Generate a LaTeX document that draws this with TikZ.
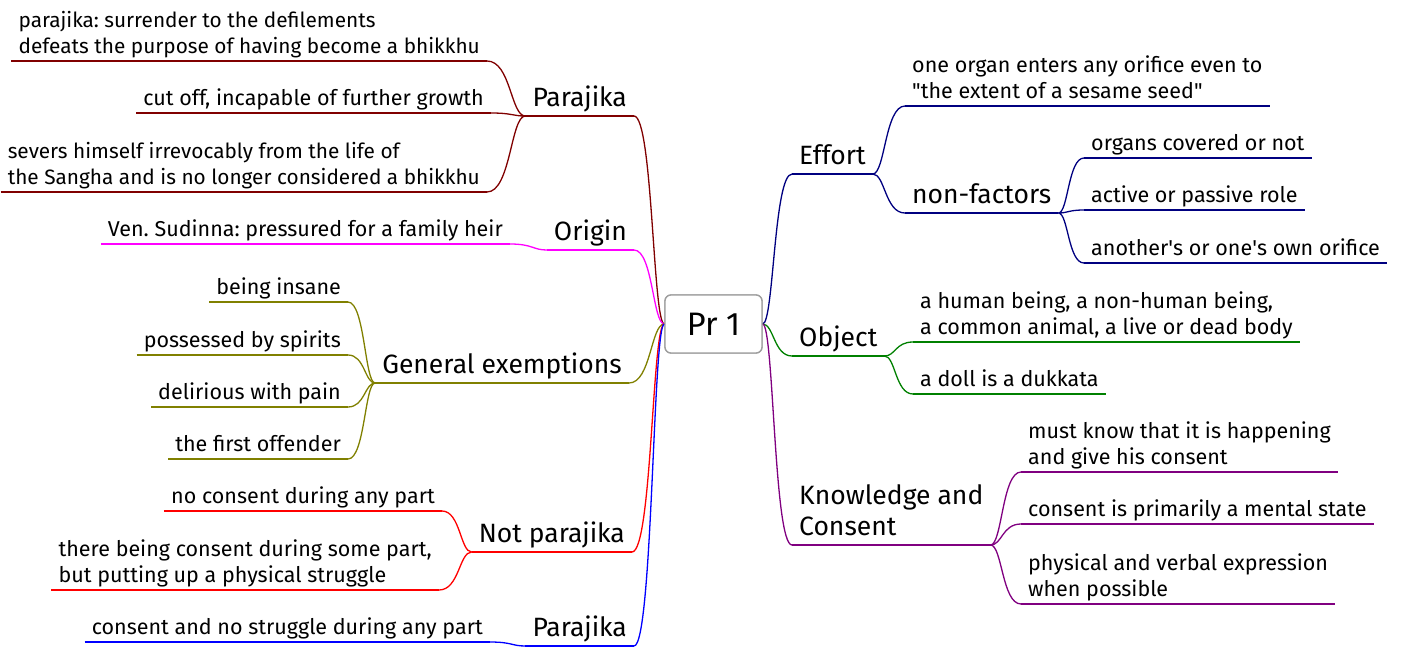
\documentclass[tikz,border=0pt]{standalone}
\usepackage{fontspec}
\setmainfont{Fira Sans}
\usetikzlibrary{calc}

\definecolor{cDR}{HTML}{800000}
\definecolor{cMG}{HTML}{FF00FF}
\definecolor{cOL}{HTML}{808000}
\definecolor{cRD}{HTML}{FF0000}
\definecolor{cBL}{HTML}{0000FF}
\definecolor{cNV}{HTML}{000080}
\definecolor{cGR}{HTML}{008000}
\definecolor{cPU}{HTML}{800080}

\tikzset{
  leaf/.style={font=\fontsize{21.5}{26}\selectfont, inner xsep=7pt, inner ysep=2.5pt,
    text depth=5pt, align=left},
  longleaf/.style={leaf, font=\fontsize{20.8}{26}\selectfont},
  topic/.style={font=\fontsize{26.5}{31}\selectfont, inner xsep=7pt, inner ysep=3.5pt,
    text depth=6pt, align=left},
  rootbox/.style={draw=black!38, line width=1.3pt, rounded corners=6pt, fill=white,
    minimum width=97pt, minimum height=58pt, font=\fontsize{32.5}{36}\selectfont},
  lnk/.style={line width=1.3pt},
  % mind-map branch: horizontal at both ends, vertical in between
  br/.style={to path={let \p1=(\tikztostart), \p2=(\tikztotarget),
      \n1={\x1+0.38*(\x2-\x1)} in
      .. controls ({\n1*1pt},\y1) and ({\n1*1pt},\y2) .. (\tikztotarget)}},
}

\begin{document}
\frenchspacing
\begin{tikzpicture}[x=1pt,y=-1pt]
\useasboundingbox (0,0) rectangle (1401,648);

\node[rootbox] (root) at (713.5,324) {Pr 1};

% ---------------- left side ----------------
\node[topic, anchor=south east] (P1) at (634,116) {Parajika};
\node[longleaf, anchor=south east] (pa1) at (487,61) {parajika: surrender to the defilements\\defeats the purpose of having become a bhikkhu};
\node[leaf, anchor=south east] (pa2) at (491,113) {cut off, incapable of further growth};
\node[longleaf, anchor=south east] (pa3) at (487,192) {severs himself irrevocably from the life of\\the Sangha and is no longer considered a bhikkhu};

\node[topic, anchor=south east] (Or) at (634,250) {Origin};
\node[leaf, anchor=south east] (or1) at (510,244) {Ven. Sudinna: pressured for a family heir};

\node[topic, anchor=south east] (Gen) at (629,383) {General exemptions};
\node[leaf, anchor=south east] (ge1) at (348,302) {being insane};
\node[leaf, anchor=south east] (ge2) at (348,355) {possessed by spirits};
\node[leaf, anchor=south east] (ge3) at (348,407) {delirious with pain};
\node[leaf, anchor=south east] (ge4) at (348,459) {the first offender};

\node[topic, anchor=south east] (NP) at (632,552) {Not parajika};
\node[leaf, anchor=south east] (np1) at (442,511) {no consent during any part};
\node[leaf, anchor=south east] (np2) at (439,590) {there being consent during some part,\\but putting up a physical struggle};

\node[topic, anchor=south east] (PB) at (634,646) {Parajika};
\node[leaf, anchor=south east] (pb1) at (490,642) {consent and no struggle during any part};

% ---------------- right side ----------------
\node[topic, anchor=south west] (Eff) at (792,174) {Effort};
\node[leaf, anchor=south west] (ef1) at (905,106) {one organ enters any orifice even to\\\textquotedbl the extent of a sesame seed\textquotedbl};
\node[topic, anchor=south west] (ef2) at (905,213) {non-factors};
\node[leaf, anchor=south west] (nf1) at (1084,158) {organs covered or not};
\node[leaf, anchor=south west] (nf2) at (1084,210) {active or passive role};
\node[leaf, anchor=south west] (nf3) at (1084,263) {another\textquotesingle s or one\textquotesingle s own orifice};

\node[topic, anchor=south west] (Obj) at (792,356) {Object};
\node[leaf, anchor=south west] (ob1) at (913,342) {a human being, a non-human being,\\a common animal, a live or dead body};
\node[leaf, anchor=south west] (ob2) at (913,394) {a doll is a dukkata};

\node[topic, anchor=south west] (Kn) at (792,545) {Knowledge and\\Consent};
\node[leaf, anchor=south west] (kn1) at (1021,472) {must know that it is happening\\and give his consent};
\node[leaf, anchor=south west] (kn2) at (1021,524) {consent is primarily a mental state};
\node[leaf, anchor=south west] (kn3) at (1021,604) {physical and verbal expression\\when possible};

% ---------------- underlines ----------------
\foreach \m/\c in {P1/cDR,pa1/cDR,pa2/cDR,pa3/cDR,Or/cMG,or1/cMG,
  Gen/cOL,ge1/cOL,ge2/cOL,ge3/cOL,ge4/cOL,NP/cRD,np1/cRD,np2/cRD,PB/cBL,pb1/cBL,
  Eff/cNV,ef1/cNV,ef2/cNV,nf1/cNV,nf2/cNV,nf3/cNV,Obj/cGR,ob1/cGR,ob2/cGR,
  Kn/cPU,kn1/cPU,kn2/cPU,kn3/cPU}
  \draw[lnk, \c] (\m.south west) -- (\m.south east);

% ---------------- branches ----------------
\draw[lnk, cDR] (root.west) to[br] (P1.south east);
\foreach \m in {pa1,pa2,pa3} \draw[lnk, cDR] (P1.south west) to[br] (\m.south east);
\draw[lnk, cMG] (root.west) to[br] (Or.south east);
\draw[lnk, cMG] (Or.south west) to[br] (or1.south east);
\draw[lnk, cOL] (root.west) to[br] (Gen.south east);
\foreach \m in {ge1,ge2,ge3,ge4} \draw[lnk, cOL] (Gen.south west) to[br] (\m.south east);
\draw[lnk, cRD] (root.west) to[br] (NP.south east);
\foreach \m in {np1,np2} \draw[lnk, cRD] (NP.south west) to[br] (\m.south east);
\draw[lnk, cBL] (root.west) to[br] (PB.south east);
\draw[lnk, cBL] (PB.south west) to[br] (pb1.south east);

\draw[lnk, cNV] (root.east) to[br] (Eff.south west);
\foreach \m in {ef1,ef2} \draw[lnk, cNV] (Eff.south east) to[br] (\m.south west);
\foreach \m in {nf1,nf2,nf3} \draw[lnk, cNV] (ef2.south east) to[br] (\m.south west);
\draw[lnk, cGR] (root.east) to[br] (Obj.south west);
\foreach \m in {ob1,ob2} \draw[lnk, cGR] (Obj.south east) to[br] (\m.south west);
\draw[lnk, cPU] (root.east) to[br] (Kn.south west);
\foreach \m in {kn1,kn2,kn3} \draw[lnk, cPU] (Kn.south east) to[br] (\m.south west);

\node[rootbox] at (root) {Pr 1};
\end{tikzpicture}
\end{document}
